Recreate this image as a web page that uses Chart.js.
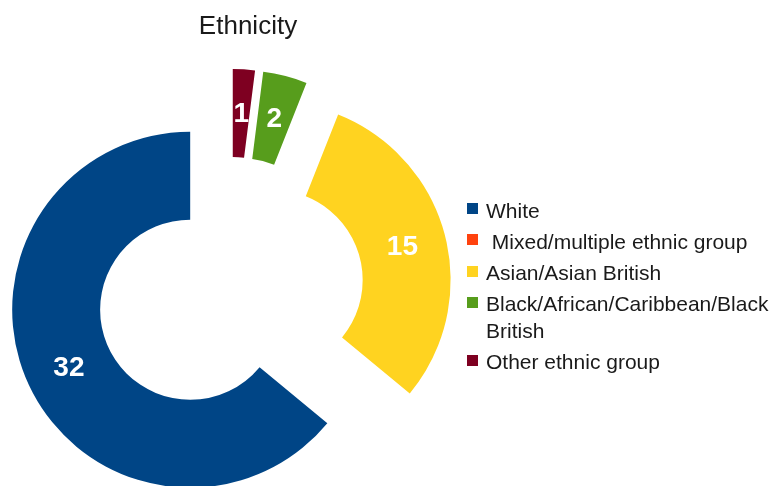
<!DOCTYPE html>
<html>
<head>
<meta charset="utf-8">
<title>Ethnicity</title>
<script src="https://cdn.jsdelivr.net/npm/chart.js@4.4.0/dist/chart.umd.min.js"></script>
<style>
  html, body { margin: 0; padding: 0; background: #fff; }
  #wrap { position: relative; width: 773px; height: 486px; }
</style>
</head>
<body>
<div id="wrap"><canvas id="chart"></canvas></div>
<script>
// --- DATA ---
const chartTitle = 'Ethnicity';
const categories = ['White', ' Mixed/multiple ethnic group', 'Asian/Asian British', 'Black/African/Caribbean/Black British', 'Other ethnic group'];
const counts = [32, 0, 15, 2, 1];
const colors = ['#004586', '#ff420e', '#ffd320', '#579d1c', '#7e0021'];

const EXPLODE = 44;       // every slice pulled out from the centre
const FONT = '"Liberation Sans", Arial, sans-serif';
const TEXT = '#1a1a1a';

// slices go counterclockwise from 12 o'clock, so feed them to Chart.js reversed
const sliceLabels = categories.slice().reverse();
const sliceValues = counts.slice().reverse();
const sliceColors = colors.slice().reverse();

// --- exploded donut + value labels ---
const explodedSlices = {
    id: 'explodedSlices',
    beforeDatasetDraw(chart, args) {
        const ctx = chart.ctx;
        const values = chart.data.datasets[args.index].data;
        args.meta.data.forEach((arc, i) => {
            const p = arc.getProps(['x', 'y', 'startAngle', 'endAngle', 'innerRadius', 'outerRadius']);
            if (p.endAngle - p.startAngle <= 0) return;
            const mid = (p.startAngle + p.endAngle) / 2;
            const cx = p.x + Math.cos(mid) * EXPLODE;
            const cy = p.y + Math.sin(mid) * EXPLODE;
            ctx.save();
            ctx.beginPath();
            ctx.arc(cx, cy, p.outerRadius, p.startAngle, p.endAngle);
            ctx.arc(cx, cy, p.innerRadius, p.endAngle, p.startAngle, true);
            ctx.closePath();
            ctx.fillStyle = arc.options.backgroundColor;
            ctx.fill();

            const r = (p.outerRadius + p.innerRadius) / 2;
            ctx.fillStyle = '#fff';
            ctx.font = 'bold 28px ' + FONT;
            ctx.textAlign = 'center';
            ctx.textBaseline = 'middle';
            ctx.fillText(String(values[i]), cx + Math.cos(mid) * r, cy + Math.sin(mid) * r + 1);
            ctx.restore();
        });
        return false;
    }
};

// --- title + legend on the right ---
function wrapText(ctx, text, maxWidth) {
    const words = text.split(' ');
    const lines = [];
    let line = words[0];
    for (let k = 1; k < words.length; k++) {
        const test = line + ' ' + words[k];
        if (ctx.measureText(test).width > maxWidth && line.trim() !== '') {
            lines.push(line);
            line = words[k];
        } else {
            line = test;
        }
    }
    lines.push(line);
    return lines;
}

const sideLegend = {
    id: 'sideLegend',
    afterDraw(chart) {
        const ctx = chart.ctx;
        ctx.save();
        ctx.fillStyle = TEXT;
        ctx.font = '26px ' + FONT;
        ctx.textAlign = 'center';
        ctx.textBaseline = 'alphabetic';
        ctx.fillText(chartTitle, 248, 34);

        ctx.font = '21px ' + FONT;
        ctx.textAlign = 'left';
        const textX = 486;
        let y = 217.5;
        categories.forEach((name, i) => {
            const lines = wrapText(ctx, name, chart.width - textX - 2);
            ctx.fillStyle = colors[i];
            ctx.fillRect(467, Math.round(y - 14.5), 11, 11);
            ctx.fillStyle = TEXT;
            lines.forEach((ln, k) => ctx.fillText(ln, textX, y + k * 26.5));
            y += (lines.length - 1) * 26.5 + 31.3;
        });
        ctx.restore();
    }
};

new Chart(document.getElementById('chart'), {
    type: 'doughnut',
    data: {
        labels: sliceLabels,
        datasets: [{
            data: sliceValues,
            backgroundColor: sliceColors,
            borderWidth: 0,
            clip: false
        }]
    },
    options: {
        responsive: true,
        maintainAspectRatio: false,
        devicePixelRatio: 1,
        animation: false,
        events: [],
        radius: 178,
        cutout: '50.6%',
        layout: { padding: { left: 0, right: 313, top: 96, bottom: 0 } },
        plugins: {
            legend: { display: false },
            title: { display: false },
            tooltip: { enabled: false }
        }
    },
    plugins: [explodedSlices, sideLegend]
});
</script>
</body>
</html>
